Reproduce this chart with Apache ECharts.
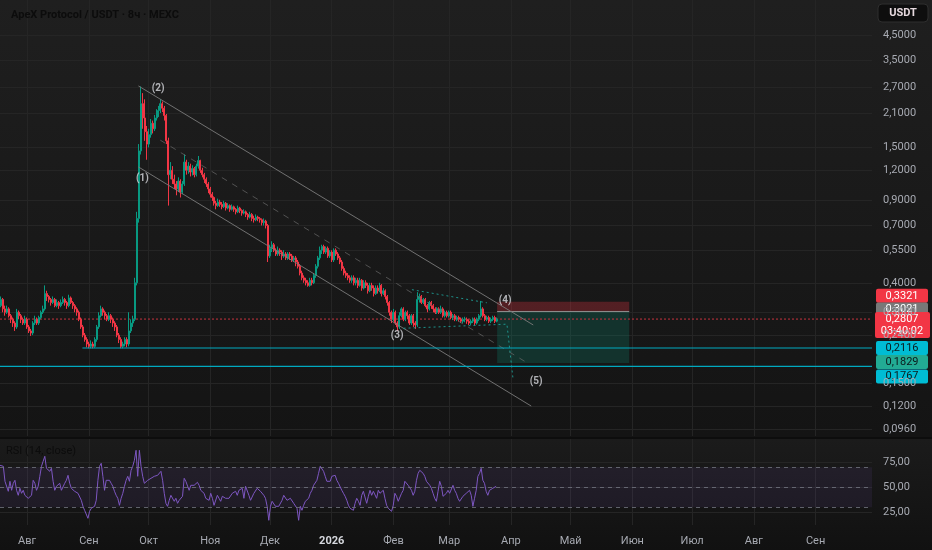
<!DOCTYPE html>
<html><head><meta charset="utf-8">
<script src="https://cdn.jsdelivr.net/npm/echarts@6/dist/echarts.min.js"></script>
<style>html,body{margin:0;padding:0;background:#171717;}#c{width:932px;height:550px;}</style>
</head><body><div id="c"></div>
<script>
// ---------- DATA ----------
const title = 'ApeX Protocol / USDT · 8ч · MEXC';
const candleStart = Date.UTC(2025, 6, 18);   // one candle per day
// [open, close, low, high]
const candles = [
[0.33,0.32,0.31,0.35],[0.32,0.34,0.315,0.35],[0.34,0.31,0.30,0.345],[0.31,0.30,0.29,0.32],[0.30,0.31,0.295,0.32],
[0.31,0.29,0.285,0.315],[0.29,0.28,0.27,0.295],[0.28,0.27,0.26,0.285],[0.27,0.26,0.25,0.275],[0.26,0.30,0.255,0.31],
[0.30,0.29,0.28,0.305],[0.29,0.28,0.27,0.295],[0.28,0.27,0.265,0.285],[0.27,0.28,0.265,0.29],[0.28,0.26,0.255,0.285],
[0.26,0.25,0.245,0.265],[0.25,0.245,0.238,0.255],[0.245,0.27,0.24,0.275],[0.27,0.28,0.265,0.29],[0.28,0.27,0.265,0.285],
[0.27,0.285,0.265,0.29],[0.285,0.30,0.28,0.305],[0.30,0.31,0.295,0.32],[0.31,0.36,0.305,0.39],[0.36,0.35,0.335,0.37],
[0.35,0.34,0.33,0.355],[0.34,0.33,0.32,0.345],[0.33,0.34,0.325,0.35],[0.34,0.32,0.315,0.345],[0.32,0.33,0.315,0.34],
[0.33,0.32,0.31,0.335],[0.32,0.33,0.315,0.34],[0.33,0.34,0.325,0.35],[0.34,0.33,0.32,0.345],[0.33,0.32,0.31,0.335],
[0.32,0.345,0.315,0.356],[0.345,0.33,0.325,0.35],[0.33,0.32,0.31,0.335],[0.32,0.31,0.30,0.325],[0.31,0.30,0.29,0.315],
[0.30,0.28,0.275,0.305],[0.28,0.26,0.255,0.285],[0.26,0.24,0.235,0.265],[0.24,0.23,0.225,0.245],[0.23,0.22,0.213,0.235],
[0.22,0.215,0.211,0.225],[0.215,0.22,0.211,0.228],[0.22,0.215,0.211,0.225],[0.215,0.23,0.212,0.235],[0.23,0.26,0.225,0.265],
[0.26,0.29,0.255,0.30],[0.29,0.31,0.285,0.32],[0.31,0.30,0.29,0.315],[0.30,0.29,0.28,0.305],[0.29,0.28,0.275,0.295],
[0.28,0.29,0.275,0.30],[0.29,0.28,0.27,0.295],[0.28,0.27,0.26,0.285],[0.27,0.26,0.25,0.275],[0.26,0.24,0.235,0.265],
[0.24,0.23,0.222,0.245],[0.23,0.215,0.211,0.235],[0.215,0.22,0.211,0.225],[0.22,0.23,0.215,0.235],[0.23,0.22,0.213,0.235],
[0.22,0.25,0.215,0.30],[0.25,0.27,0.245,0.28],[0.27,0.28,0.26,0.29],[0.28,0.40,0.275,0.42],[0.40,0.75,0.39,0.80],
[0.75,1.45,0.72,1.55],[1.45,2.30,1.40,2.72],[2.30,2.00,1.80,2.55],[2.00,1.75,1.60,2.40],[1.75,1.55,1.33,1.85],
[1.55,1.70,1.50,1.80],[1.70,1.90,1.65,1.98],[1.90,1.80,1.72,1.95],[1.80,2.00,1.76,2.06],[2.00,2.10,1.95,2.18],
[2.10,2.15,2.02,2.25],[2.15,2.30,2.10,2.40],[2.30,2.20,2.12,2.35],[2.20,2.05,1.95,2.25],[2.05,1.60,1.55,2.08],
[1.60,1.15,0.85,1.65],[1.15,1.20,1.10,1.30],[1.20,1.10,1.05,1.25],[1.10,1.05,1.00,1.15],[1.05,1.00,0.94,1.08],
[1.00,1.08,0.97,1.12],[1.08,0.97,0.92,1.10],[0.97,1.05,0.95,1.08],[1.05,1.30,1.03,1.40],[1.30,1.20,1.15,1.33],
[1.20,1.25,1.16,1.30],[1.25,1.18,1.13,1.28],[1.18,1.22,1.14,1.26],[1.22,1.15,1.12,1.24],[1.15,1.25,1.13,1.28],
[1.25,1.32,1.22,1.38],[1.32,1.20,1.17,1.33],[1.20,1.15,1.12,1.23],[1.15,1.10,1.06,1.17],[1.10,1.05,1.02,1.12],
[1.05,1.00,0.96,1.07],[1.00,0.95,0.92,1.02],[0.95,0.92,0.89,0.97],[0.92,0.87,0.85,0.93],[0.87,0.85,0.82,0.89],
[0.85,0.88,0.84,0.91],[0.88,0.86,0.84,0.90],[0.86,0.84,0.82,0.88],[0.84,0.87,0.83,0.89],[0.87,0.83,0.81,0.88],
[0.83,0.85,0.82,0.87],[0.85,0.82,0.80,0.86],[0.82,0.84,0.81,0.86],[0.84,0.82,0.80,0.85],[0.82,0.80,0.78,0.83],
[0.80,0.83,0.79,0.85],[0.83,0.81,0.79,0.84],[0.81,0.79,0.77,0.82],[0.79,0.80,0.78,0.82],[0.80,0.78,0.76,0.81],
[0.78,0.76,0.74,0.79],[0.76,0.78,0.75,0.80],[0.78,0.75,0.73,0.79],[0.75,0.74,0.72,0.77],[0.74,0.76,0.73,0.78],
[0.76,0.75,0.73,0.77],[0.75,0.74,0.72,0.76],[0.74,0.72,0.70,0.75],[0.72,0.73,0.70,0.75],[0.73,0.70,0.68,0.74],
[0.70,0.52,0.49,0.71],[0.52,0.56,0.51,0.58],[0.56,0.58,0.54,0.60],[0.58,0.55,0.54,0.59],[0.55,0.53,0.52,0.56],
[0.53,0.55,0.52,0.57],[0.55,0.54,0.52,0.56],[0.54,0.52,0.50,0.55],[0.52,0.53,0.51,0.55],[0.53,0.51,0.50,0.54],
[0.51,0.53,0.50,0.54],[0.53,0.52,0.50,0.54],[0.52,0.50,0.49,0.53],[0.50,0.51,0.49,0.52],[0.51,0.49,0.47,0.52],
[0.49,0.47,0.46,0.50],[0.47,0.44,0.43,0.48],[0.44,0.42,0.41,0.45],[0.42,0.41,0.40,0.43],[0.41,0.40,0.39,0.42],
[0.40,0.39,0.385,0.41],[0.39,0.41,0.385,0.42],[0.41,0.40,0.39,0.42],[0.40,0.43,0.395,0.44],[0.43,0.47,0.42,0.48],
[0.47,0.51,0.46,0.52],[0.51,0.55,0.50,0.57],[0.55,0.57,0.53,0.58],[0.57,0.54,0.53,0.58],[0.54,0.56,0.53,0.57],
[0.56,0.52,0.51,0.57],[0.52,0.54,0.51,0.55],[0.54,0.50,0.49,0.55],[0.50,0.55,0.49,0.56],[0.55,0.53,0.52,0.56],
[0.53,0.51,0.50,0.54],[0.51,0.49,0.48,0.52],[0.49,0.46,0.45,0.50],[0.46,0.44,0.43,0.47],[0.44,0.43,0.42,0.45],
[0.43,0.42,0.41,0.44],[0.42,0.41,0.40,0.43],[0.41,0.42,0.40,0.43],[0.42,0.40,0.39,0.43],[0.40,0.41,0.39,0.42],
[0.41,0.39,0.38,0.42],[0.39,0.41,0.385,0.42],[0.41,0.38,0.37,0.415],[0.38,0.40,0.375,0.41],[0.40,0.39,0.38,0.41],
[0.39,0.37,0.36,0.40],[0.37,0.39,0.365,0.40],[0.39,0.38,0.37,0.40],[0.38,0.36,0.35,0.39],[0.36,0.38,0.355,0.39],
[0.38,0.37,0.36,0.39],[0.37,0.39,0.365,0.40],[0.39,0.36,0.35,0.395],[0.36,0.37,0.355,0.38],[0.37,0.35,0.34,0.375],
[0.35,0.33,0.32,0.355],[0.33,0.30,0.29,0.335],[0.30,0.28,0.27,0.305],[0.28,0.30,0.275,0.31],[0.30,0.27,0.265,0.305],
[0.27,0.26,0.25,0.275],[0.26,0.29,0.255,0.30],[0.29,0.31,0.285,0.315],[0.31,0.28,0.275,0.315],[0.28,0.30,0.275,0.305],
[0.30,0.29,0.28,0.305],[0.29,0.27,0.265,0.295],[0.27,0.29,0.265,0.295],[0.29,0.27,0.26,0.295],[0.27,0.265,0.255,0.275],
[0.265,0.34,0.26,0.365],[0.34,0.35,0.33,0.36],[0.35,0.33,0.325,0.355],[0.33,0.34,0.325,0.345],[0.34,0.32,0.315,0.345],
[0.32,0.31,0.30,0.325],[0.31,0.33,0.305,0.335],[0.33,0.32,0.31,0.335],[0.32,0.31,0.30,0.325],[0.31,0.30,0.295,0.315],
[0.30,0.31,0.295,0.315],[0.31,0.30,0.295,0.315],[0.30,0.31,0.295,0.32],[0.31,0.29,0.285,0.315],[0.29,0.30,0.285,0.305],
[0.30,0.29,0.285,0.305],[0.29,0.30,0.285,0.305],[0.30,0.285,0.28,0.305],[0.285,0.29,0.278,0.295],[0.29,0.28,0.275,0.295],
[0.28,0.285,0.275,0.29],[0.285,0.28,0.274,0.29],[0.28,0.275,0.27,0.285],[0.275,0.28,0.27,0.285],[0.28,0.28,0.272,0.287],
[0.28,0.275,0.268,0.285],[0.275,0.27,0.265,0.28],[0.27,0.275,0.265,0.28],[0.275,0.28,0.27,0.285],[0.28,0.27,0.265,0.285],
[0.27,0.28,0.266,0.285],[0.28,0.29,0.275,0.295],[0.29,0.31,0.285,0.335],[0.31,0.29,0.285,0.315],[0.29,0.28,0.275,0.295],
[0.28,0.285,0.275,0.29],[0.285,0.275,0.27,0.29],[0.275,0.28,0.27,0.285],[0.28,0.285,0.275,0.29],[0.285,0.275,0.27,0.29],
[0.275,0.2807,0.272,0.285]
];
const lastPrice = 0.2807;
const lastTimer = '03:40:02';

const rsiStart = Date.UTC(2025, 6, 18, 9, 36);
const rsiStepHours = 20;
const rsiValues = [
72,71,71,56,56,46,56,47,54,57,47,42,49,44,47,42,44,39,37,42,
57,54,47,51,61,71,76,81,69,67,66,69,56,47,51,52,54,47,49,54,
57,62,54,49,51,46,47,44,42,37,31,27,26,19,26,29,29,31,37,57,
71,74,61,47,57,56,57,54,51,46,42,39,32,39,44,51,57,61,56,67,
71,77,87,61,87,71,61,54,54,57,56,59,59,61,61,62,64,66,57,44,
34,31,37,42,44,36,39,34,37,39,41,59,56,54,47,52,51,52,54,55,
52,47,49,44,39,41,37,44,39,32,31,42,39,36,41,42,39,41,39,41,
44,42,46,42,47,46,49,39,51,51,42,37,36,44,46,49,47,
46,44,42,39,31,17,31,36,37,31,29,31,31,37,42,41,37,36,39,37,
34,32,29,17,31,27,32,36,37,39,44,47,52,54,57,64,71,72,66,61,
56,54,56,61,59,62,57,54,52,47,44,41,37,32,29,31,27,34,39,36,
32,42,46,44,34,41,47,42,46,47,39,47,44,46,47,39,32,29,27,26,
32,44,41,36,37,44,47,56,57,52,51,47,42,46,57,64,67,69,64,61,
56,54,52,49,44,39,36,46,56,51,41,42,44,47,44,46,52,47,44,39,
36,37,41,42,44,46,47,42,31,39,47,61,64,69,57,54,46,42,47,46,
49,47,51
];
const rsiLevels = [70, 50, 30];

const priceTicks = [4.5,3.5,2.7,2.1,1.5,1.2,0.9,0.7,0.55,0.4,0.3,0.24,0.15,0.12,0.096];
const rsiTicks = [25, 50, 75];
const monthStarts = [Date.UTC(2025,7,1),Date.UTC(2025,8,1),Date.UTC(2025,9,1),Date.UTC(2025,10,1),Date.UTC(2025,11,1),
  Date.UTC(2026,0,1),Date.UTC(2026,1,1),Date.UTC(2026,2,1),Date.UTC(2026,3,1),Date.UTC(2026,4,1),Date.UTC(2026,5,1),
  Date.UTC(2026,6,1),Date.UTC(2026,7,1),Date.UTC(2026,8,1)];
const monthLabels = ['Авг','Сен','Окт','Ноя','Дек','2026','Фев','Мар','Апр','Май','Июн','Июл','Авг','Сен'];

// drawings (time, price)
const channelUpper = [[Date.UTC(2025,8,25,22), 2.735], [Date.UTC(2026,3,12,5), 0.265]];
const channelLower = [[Date.UTC(2025,8,25,22), 1.24], [Date.UTC(2026,3,11,5), 0.120]];
const channelMid   = [[Date.UTC(2025,9,6,22), 1.61], [Date.UTC(2026,3,9,5), 0.183]];
const wedgeUpper = [[Date.UTC(2026,1,10,7), 0.374], [Date.UTC(2026,2,19,22), 0.329]];
const wedgeLower = [[Date.UTC(2026,1,6,2), 0.2566], [Date.UTC(2026,2,30,0), 0.267], [Date.UTC(2026,3,2,0), 0.158]];
const supportLevel = 0.2116, supportFrom = Date.UTC(2025,7,28,19);
const lowLevel = 0.1767;
const posStart = Date.UTC(2026,2,25,2), posEnd = Date.UTC(2026,4,30,10);
const posEntry = 0.3021, posStop = 0.3321, posTarget = 0.1829;
const waveLabels = ['(1)','(2)','(3)','(4)','(5)'];
const wavePoints = [[Date.UTC(2025,8,27,21),1.103],[Date.UTC(2025,9,5,21),2.656],[Date.UTC(2026,1,2,21),0.238],
  [Date.UTC(2026,2,29,2),0.338],[Date.UTC(2026,3,13,17),0.152]];

const priceTags = [
  {v: posStop, bg:'#f23645', fg:'#ffffff', dy:-6},
  {v: posEntry, bg:'#787878', fg:'#ffffff', dy:-2},
  {v: supportLevel, bg:'#00bcd4', fg:'#0b1a1c', dy:0},
  {v: posTarget, bg:'#22ab94', fg:'#0b1a1c', dy:-1},
  {v: lowLevel, bg:'#00bcd4', fg:'#0b1a1c', dy:10}
];

// ---------- CHART ----------
const DAY = 86400000;
const tMin = Date.UTC(2025,6,18,9,36), tMax = Date.UTC(2026,8,29,8,24);
const candleData = candles.map((r, i) => [candleStart + i*DAY, r[0], r[1], r[2], r[3]]);
const rsiData = rsiValues.map((v, i) => [rsiStart + i*rsiStepHours*3600000, v]);
const fmtPrice = v => Number(v).toFixed(4).replace('.', ',');
const FONT = 'Roboto, "Noto Sans", sans-serif';
const gridColor = '#252525';
const labelColor = '#a7aab2';

function lineSeries(data, color, type, width, opacity, z) {
  return {type:'line', xAxisIndex:0, yAxisIndex:0, data, showSymbol:false, silent:true, z: z || 4,
    lineStyle:{color, width: width || 1, type: type || 'solid', opacity: opacity == null ? 1 : opacity}};
}
function monthFormatter(v) {
  let k = -1;
  for (let j = 0; j < monthStarts.length; j++) if (Math.abs(monthStarts[j] - v) < 3600000) k = j;
  const s = k >= 0 ? monthLabels[k] : '';
  return s === '2026' ? '{b|' + s + '}' : s;
}

const chart = echarts.init(document.getElementById('c'));
const option = {
  animation:false,
  backgroundColor:'#171717',
  title:{text:title, left:6, top:5, textStyle:{color:'#0c0c0c', fontSize:11, fontWeight:'bold', fontFamily:FONT}},
  grid:[{left:0, right:60, top:0, height:436},{left:0, right:60, top:439, height:86}],
  xAxis:[
    {type:'value', gridIndex:0, min:tMin, max:tMax, scale:true, axisLine:{show:false}, axisTick:{show:false, customValues:monthStarts},
      axisLabel:{show:false, customValues:monthStarts}, splitLine:{show:true, lineStyle:{color:gridColor}}},
    {type:'value', gridIndex:1, min:tMin, max:tMax, scale:true, axisLine:{show:false}, axisTick:{show:false, customValues:monthStarts},
      axisLabel:{customValues:monthStarts, margin:11, color:labelColor, fontSize:11, fontFamily:FONT,
        formatter:monthFormatter,
        rich:{b:{color:'#d6d8de', fontWeight:'bold', fontSize:11, fontFamily:FONT}}},
      splitLine:{show:true, lineStyle:{color:gridColor}}}
  ],
  yAxis:[
    {type:'log', gridIndex:0, position:'right', min:0.0896, max:6.33, axisLine:{show:false},
      axisTick:{show:false, customValues:priceTicks},
      axisLabel:{customValues:priceTicks, formatter:fmtPrice, color:labelColor, fontSize:11, fontFamily:FONT, margin:11},
      splitLine:{show:true, lineStyle:{color:gridColor}}},
    {type:'value', gridIndex:1, position:'right', min:12.3, max:98.3, axisLine:{show:false},
      axisTick:{show:false, customValues:rsiTicks},
      axisLabel:{customValues:rsiTicks, formatter:v => Number(v).toFixed(2).replace('.', ','), color:labelColor, fontSize:11, fontFamily:FONT, margin:11},
      splitLine:{show:true, lineStyle:{color:gridColor}}}
  ],
  series:[
    {type:'candlestick', name:'price', xAxisIndex:0, yAxisIndex:0, data:candleData, encode:{x:0, y:[1,2,3,4]},
      barWidth:1.5, z:3,
      itemStyle:{color:'#089981', color0:'#f23645', borderColor:'#089981', borderColor0:'#f23645', borderWidth:1},
      markArea:{silent:true, label:{show:false},
        data:[
          [{xAxis:posStart, yAxis:posEntry, itemStyle:{color:'rgba(242,54,69,0.28)'}},{xAxis:posEnd, yAxis:posStop}],
          [{xAxis:posStart, yAxis:posTarget, itemStyle:{color:'rgba(8,153,129,0.22)'}},{xAxis:posEnd, yAxis:posEntry}]
        ]}
    },
    lineSeries([[tMin,lastPrice],[tMax,lastPrice]], '#c7323f', [2,2], 1, 1, 2),
    lineSeries([[posStart,posEntry],[posEnd,posEntry]], '#9a9a9a', 'solid', 1, 0.9),
    lineSeries(channelUpper, '#7a7a7a', 'solid', 1, 0.9),
    lineSeries(channelLower, '#7a7a7a', 'solid', 1, 0.9),
    lineSeries(channelMid, '#6a6a6a', [6,6], 1, 0.7),
    lineSeries(wedgeUpper, '#1e9e97', [2,3], 1, 0.9),
    lineSeries(wedgeLower, '#1e9e97', [2,3], 1, 0.9),
    lineSeries([[supportFrom,supportLevel],[tMax,supportLevel]], '#00a9bf', 'solid', 1.2, 1),
    lineSeries([[tMin,lowLevel],[tMax,lowLevel]], '#00a9bf', 'solid', 1.2, 1),
    {type:'scatter', xAxisIndex:0, yAxisIndex:0, data:wavePoints, symbol:'circle', symbolSize:2, silent:true, z:6,
      itemStyle:{color:'rgba(0,0,0,0)'},
      label:{show:true, position:'inside', formatter:p => waveLabels[p.dataIndex], color:'#d8dade',
        fontSize:10, fontWeight:'bold', fontFamily:FONT}},
    {type:'line', name:'RSI', xAxisIndex:1, yAxisIndex:1, data:rsiData, showSymbol:false, silent:true, z:4,
      lineStyle:{color:'#7e57c2', width:1},
      markArea:{silent:true, data:[[{yAxis:30, itemStyle:{color:'rgba(126,87,194,0.1)'}},{yAxis:70}]]},
      markLine:{silent:true, symbol:'none', label:{show:false},
        lineStyle:{color:'#787b86', type:[4,4], width:1, opacity:0.75},
        data:rsiLevels.map(v => ({yAxis:v}))}}
  ],
  graphic:[
    {type:'rect', z:-10, shape:{x:0,y:0,width:932,height:437}, style:{fill:new echarts.graphic.LinearGradient(0,0,0,1,[{offset:0,color:'#1f1f1f'},{offset:1,color:'#141414'}])}, silent:true},
    {type:'rect', z:-10, shape:{x:0,y:437,width:932,height:2}, style:{fill:'#0d0d0d'}, silent:true},
    {type:'rect', z:-10, shape:{x:0,y:439,width:932,height:111}, style:{fill:new echarts.graphic.LinearGradient(0,0,0,1,[{offset:0,color:'#1b1b1b'},{offset:1,color:'#111111'}])}, silent:true}
  ]
};
chart.setOption(option);

// price tags on the right scale, placed with the library's own scale
const g = [];
g.push({type:'group', z:50, children:[
  {type:'rect', shape:{x:878, y:4, width:50, height:18, r:4}, style:{fill:'#0e0e0e', stroke:'#2e2e2e', lineWidth:1}},
  {type:'text', x:903, y:13, style:{text:'USDT', fill:'#e6d9de', font:'bold 11px ' + FONT, align:'center', verticalAlign:'middle'}}
]});
priceTags.forEach(t => {
  const y = chart.convertToPixel({yAxisIndex:0}, t.v) + t.dy;
  g.push({type:'group', z:50, children:[
    {type:'rect', shape:{x:876, y:y-7, width:52, height:14, r:2}, style:{fill:t.bg}},
    {type:'text', x:902, y:y, style:{text:fmtPrice(t.v), fill:t.fg, font:'11px ' + FONT, align:'center', verticalAlign:'middle'}}
  ]});
});
const yl = chart.convertToPixel({yAxisIndex:0}, lastPrice);
g.push({type:'group', z:51, children:[
  {type:'rect', shape:{x:875, y:yl-7, width:55, height:26, r:2}, style:{fill:'#f23645'}},
  {type:'text', x:902, y:yl, style:{text:fmtPrice(lastPrice), fill:'#ffffff', font:'11px ' + FONT, align:'center', verticalAlign:'middle'}},
  {type:'text', x:902, y:yl+12, style:{text:lastTimer, fill:'#ffffff', font:'11px ' + FONT, align:'center', verticalAlign:'middle'}}
]});
g.push({type:'text', z:50, x:6, y:451, style:{text:'RSI (14, close)', fill:'#0c0c0c', font:'11px ' + FONT, verticalAlign:'middle'}});
chart.setOption({graphic: option.graphic.concat(g)});
</script></body></html>
